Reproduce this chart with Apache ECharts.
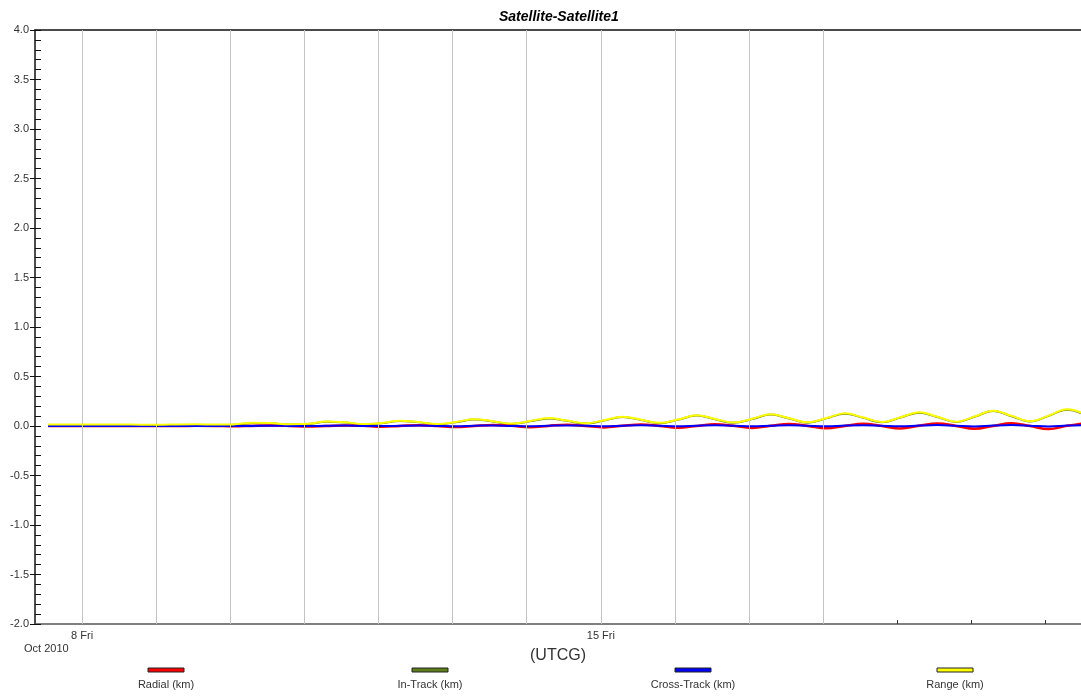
<!DOCTYPE html>
<html>
<head>
<meta charset="utf-8">
<title>Satellite-Satellite1</title>
<script src="https://cdn.jsdelivr.net/npm/echarts@6/dist/echarts.min.js"></script>
<style>
    html, body { margin: 0; padding: 0; background: #fff; }
    .chart { width: 1081px; height: 696px; }
</style>
</head>
<body>
<div class="chart" id="chart"></div>
<script>
// samples every 6 hours, first one Oct 7 2010 13:00 UTCG
const startTime = Date.UTC(2010, 9, 7, 13);
const stepMs = 6 * 3600 * 1000;

const seriesNames = ['Radial (km)', 'In-Track (km)', 'Cross-Track (km)', 'Range (km)'];
const seriesColors = ['#ff0000', '#5d7f1b', '#0000ff', '#ffff00'];

const radial = [
    0.000, 0.001,
    0.000, 0.000, 0.001, 0.000,
    -0.001, 0.000, 0.002, 0.001,
    -0.003, 0.001, 0.004, 0.001,
    -0.005, 0.000, 0.006, 0.002,
    -0.008, 0.001, 0.008, 0.001,
    -0.010, 0.000, 0.010, 0.002,
    -0.012, 0.001, 0.013, 0.001,
    -0.014, 0.002, 0.015, 0.001,
    -0.017, 0.001, 0.017, 0.002,
    -0.019, 0.002, 0.020, 0.001,
    -0.022, 0.001, 0.022, 0.000,
    -0.025, 0.002, 0.025, 0.001,
    -0.028, 0.001, 0.028, -0.001,
    -0.031, 0.002, 0.030
];
const inTrack = [
    0.001, 0.001,
    0.001, 0.002, 0.001, 0.000,
    0.001, 0.006, 0.010, 0.009,
    0.012, 0.029, 0.027, 0.015,
    0.019, 0.042, 0.035, 0.017,
    0.027, 0.051, 0.037, 0.017,
    0.037, 0.066, 0.045, 0.021,
    0.047, 0.077, 0.052, 0.024,
    0.055, 0.091, 0.060, 0.029,
    0.063, 0.105, 0.068, 0.032,
    0.070, 0.115, 0.075, 0.034,
    0.077, 0.125, 0.082, 0.037,
    0.085, 0.135, 0.090, 0.040,
    0.093, 0.152, 0.099, 0.045,
    0.102, 0.165, 0.109
];
const crossTrack = [
    0.000, 0.000,
    0.000, 0.000, 0.000, 0.000,
    0.000, 0.000, 0.001, 0.000,
    0.000, 0.001, 0.003, 0.001,
    -0.001, 0.002, 0.004, 0.001,
    -0.001, 0.002, 0.005, 0.001,
    -0.002, 0.002, 0.006, 0.001,
    -0.002, 0.003, 0.006, 0.002,
    -0.002, 0.003, 0.007, 0.002,
    -0.003, 0.003, 0.007, 0.002,
    -0.003, 0.003, 0.008, 0.002,
    -0.003, 0.004, 0.008, 0.002,
    -0.003, 0.004, 0.009, 0.002,
    -0.004, 0.004, 0.009, 0.003,
    -0.004, 0.004, 0.010
];
const range = [
    0.015, 0.015,
    0.015, 0.016, 0.015, 0.013,
    0.012, 0.016, 0.017, 0.014,
    0.016, 0.032, 0.030, 0.018,
    0.022, 0.045, 0.038, 0.020,
    0.030, 0.054, 0.040, 0.020,
    0.040, 0.069, 0.048, 0.024,
    0.050, 0.080, 0.055, 0.027,
    0.058, 0.094, 0.063, 0.032,
    0.066, 0.108, 0.071, 0.035,
    0.073, 0.118, 0.078, 0.037,
    0.080, 0.128, 0.085, 0.040,
    0.088, 0.138, 0.093, 0.043,
    0.096, 0.155, 0.102, 0.048,
    0.105, 0.168, 0.112
];

// vertical grid lines are only drawn for these days (Oct 2010)
const gridDays = [8, 9, 10, 11, 12, 13, 14, 15, 16, 17, 18];
// day-of-month -> tick label
const xLabels = { 8: '8 Fri', 15: '15 Fri' };
const yearLabel = 'Oct 2010';

const xMin = Date.UTC(2010, 9, 7, 8, 45);
const xMax = Date.UTC(2010, 9, 21, 11, 30);
const DAY = 86400000;

const allValues = [radial, inTrack, crossTrack, range];
const times = radial.map((v, i) => startTime + i * stepMs);

// draw order: in-track at the bottom, range on top
const zOrder = [3, 2, 4, 5];
const lineWidths = [2.5, 2, 2, 2];

const series = allValues.map((vals, k) => ({
    name: seriesNames[k],
    type: 'line',
    data: vals.map((v, i) => [times[i], v]),
    showSymbol: false,
    smooth: 0.4,
    z: zOrder[k],
    lineStyle: { color: seriesColors[k], width: lineWidths[k] },
    itemStyle: { color: seriesColors[k] }
}));

// empty series just to hold the vertical grid lines
series.unshift({
    type: 'line',
    data: [],
    z: 1,
    silent: true,
    markLine: {
        silent: true,
        symbol: ['none', 'none'],
        label: { show: false },
        lineStyle: { color: '#c4c4c4', width: 1, type: 'solid' },
        data: gridDays.map(d => ({ xAxis: Date.UTC(2010, 9, d) }))
    }
});

const legendX = [166, 430, 693, 955];
const legendGraphics = [];
seriesNames.forEach((name, k) => {
    legendGraphics.push({
        type: 'rect',
        shape: { x: legendX[k] - 18, y: 668, width: 36, height: 4 },
        style: { fill: seriesColors[k], stroke: '#222', lineWidth: 1 }
    });
    legendGraphics.push({
        type: 'text',
        x: legendX[k],
        y: 679,
        style: { text: name, fill: '#333', font: '11px Arial', textAlign: 'center' }
    });
});
legendGraphics.push({
    type: 'text',
    x: 24,
    y: 643,
    style: { text: yearLabel, fill: '#333', font: '11px Arial' }
});

let option = {
    animation: false,
    useUTC: true,
    backgroundColor: '#fff',
    textStyle: { fontFamily: 'Arial' },
    title: {
        text: 'Satellite-Satellite1',
        left: 494,
        top: 5,
        textStyle: { fontSize: 14, fontWeight: 'bold', fontStyle: 'italic', color: '#000' }
    },
    grid: {
        left: 35,
        right: 0,
        top: 30,
        bottom: 72,
        containLabel: false
    },
    xAxis: [
        {
            type: 'time',
            min: xMin,
            max: xMax,
            minInterval: DAY,
            maxInterval: DAY,
            name: '(UTCG)',
            nameLocation: 'middle',
            nameGap: 24,
            nameTextStyle: { fontSize: 16, color: '#333' },
            axisLine: { onZero: false, lineStyle: { color: '#555', width: 1.5 } },
            axisTick: { inside: true, length: 4, lineStyle: { color: '#333' } },
            splitLine: { show: false },
            axisLabel: {
                color: '#333',
                fontSize: 11,
                margin: 6,
                hideOverlap: false,
                formatter: function (value) {
                    const d = new Date(value);
                    if (d.getUTCHours() !== 0 || d.getUTCMinutes() !== 0) return '';
                    return xLabels[d.getUTCDate()] || '';
                }
            }
        },
        {
            type: 'time',
            position: 'top',
            min: xMin,
            max: xMax,
            axisLine: { onZero: false, lineStyle: { color: '#111', width: 1.5 } },
            axisTick: { show: false },
            axisLabel: { show: false },
            splitLine: { show: false }
        }
    ],
    yAxis: [
        {
            type: 'value',
            min: -2,
            max: 4,
            interval: 0.5,
            axisLine: { show: true, onZero: false, lineStyle: { color: '#111', width: 1.5 } },
            axisTick: { show: true, length: 5, lineStyle: { color: '#111' } },
            splitLine: { show: false },
            axisLabel: {
                color: '#333',
                fontSize: 11,
                margin: 6,
                formatter: v => v.toFixed(1)
            }
        },
        {
            // inner ticks + minor ticks
            type: 'value',
            position: 'left',
            min: -2,
            max: 4,
            interval: 0.5,
            axisLine: { show: false, onZero: false },
            axisTick: { show: true, inside: true, length: 6, lineStyle: { color: '#111' } },
            minorTick: { show: true, splitNumber: 5, length: 6, lineStyle: { color: '#111' } },
            axisLabel: { show: false },
            splitLine: { show: false }
        }
    ],
    graphic: legendGraphics,
    series: series
};

const myChart = echarts.init(document.getElementById('chart'));
myChart.setOption(option);
</script>
</body>
</html>
